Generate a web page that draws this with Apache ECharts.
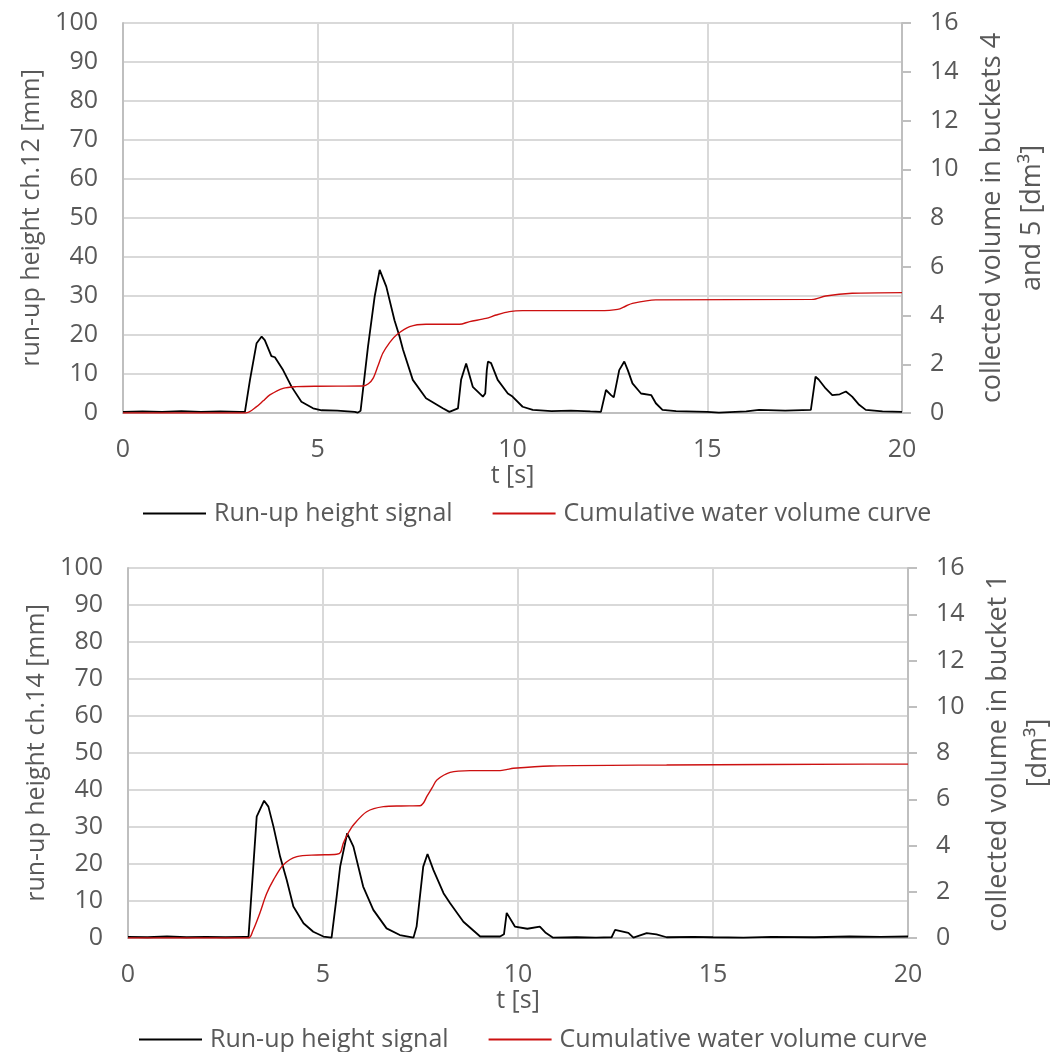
<!DOCTYPE html>
<html>
<head>
<meta charset="utf-8">
<script src="https://cdn.jsdelivr.net/npm/echarts@6/dist/echarts.min.js"></script>
<style>
html,body{margin:0;padding:0;background:#fff;}
#chart{width:1050px;height:1052px;}
</style>
</head>
<body>
<div id="chart"></div>
<script>
// ---- Data ----
var xTicks = [0, 5, 10, 15, 20];
var leftTicks = [0, 10, 20, 30, 40, 50, 60, 70, 80, 90, 100];
var rightTicks = [0, 2, 4, 6, 8, 10, 12, 14, 16];
var seriesNames = ['Run-up height signal', 'Cumulative water volume curve'];

// Top panel: run-up height ch.12 [mm]
var topRunT = [0,0.5,1,1.5,2,2.5,3,3.13,3.26,3.43,3.56,3.64,3.81,3.9,4.11,4.33,4.58,4.88,5.1,5.5,5.95,6.03,6.1,6.29,6.46,6.59,6.76,6.97,7.1,7.19,7.44,7.78,8.21,8.38,8.6,8.68,8.81,8.98,9.24,9.3,9.34,9.37,9.45,9.62,9.88,10.0,10.26,10.52,11,11.5,12,12.27,12.4,12.53,12.6,12.74,12.87,12.96,13.08,13.3,13.56,13.68,13.85,14.2,15,15.3,16,16.33,17,17.66,17.78,17.86,18.04,18.21,18.4,18.56,18.72,18.9,19.07,19.5,20];
var topRunV = [0.3,0.4,0.3,0.5,0.3,0.4,0.3,0.3,8.5,17.9,19.6,18.7,14.6,14.3,11.0,6.7,2.9,1.2,0.7,0.6,0.3,0.1,0.6,17,29.8,36.7,32.4,23.8,19.6,16.2,8.5,3.8,1.2,0.3,1.2,8.5,12.7,6.7,4.2,5.0,11,13.2,12.8,8.5,5.0,4.2,1.6,0.8,0.5,0.6,0.4,0.3,5.9,4.6,4.0,11,13.2,11,7.6,5.0,4.6,2.5,0.8,0.5,0.3,0.1,0.4,0.8,0.6,0.8,9.3,8.6,6.3,4.6,4.8,5.5,4.2,2.1,0.8,0.4,0.3];
// Top panel: collected volume in buckets 4 and 5 [dm3]
var topVolT = [0,3.15,3.43,3.6,3.77,4.11,4.45,5.0,6.16,6.3,6.42,6.55,6.67,6.85,7.02,7.36,7.78,8.64,8.9,9.32,9.58,9.92,10.26,12.23,12.7,12.9,13.08,13.68,17.7,18.04,18.72,20];
var topVolV = [0,0,0.26,0.5,0.74,1.01,1.08,1.1,1.11,1.2,1.42,1.95,2.45,2.9,3.2,3.54,3.64,3.64,3.75,3.88,4.02,4.16,4.2,4.2,4.25,4.38,4.5,4.64,4.66,4.8,4.91,4.94];

// Bottom panel: run-up height ch.14 [mm]
var botRunT = [0,0.5,1,1.5,2,2.5,3,3.09,3.3,3.49,3.6,3.73,3.9,4.07,4.24,4.5,4.75,5.01,5.22,5.26,5.35,5.44,5.62,5.78,6.03,6.29,6.63,6.97,7.32,7.4,7.57,7.68,7.83,8.09,8.26,8.6,9.03,9.54,9.64,9.71,9.92,10.24,10.56,10.7,10.9,11.5,12,12.4,12.49,12.83,12.96,13.3,13.55,13.81,14.5,15,15.78,16.5,17.6,18.5,19.3,20];
var botRunV = [0.3,0.2,0.4,0.2,0.3,0.2,0.3,0.3,32.8,37.1,35.5,30.1,22,15.7,8.5,4.0,1.7,0.4,0.1,0.5,11.2,19.3,28.3,24.7,13.9,7.6,2.6,0.8,0.1,3.1,19.3,22.7,18.4,12.1,9.4,4.4,0.4,0.4,1.0,6.8,3.1,2.5,3.1,1.5,0.1,0.2,0.1,0.2,2.2,1.4,0.1,1.3,1.0,0.2,0.3,0.2,0.1,0.3,0.2,0.4,0.3,0.4];
// Bottom panel: collected volume in bucket 1 [dm3]
var botVolT = [0,3.09,3.2,3.38,3.55,3.73,3.98,4.33,4.84,5.35,5.45,5.52,5.65,5.78,6.12,6.55,7.0,7.49,7.58,7.66,7.8,7.92,8.26,8.77,9.54,9.7,9.88,10.82,13.81,18.94,20];
var botVolV = [0,0,0.3,1.07,1.9,2.51,3.16,3.52,3.59,3.62,3.7,4.1,4.55,4.89,5.46,5.68,5.71,5.72,5.85,6.11,6.5,6.83,7.16,7.24,7.24,7.28,7.34,7.44,7.48,7.52,7.52];

function zip(a, b) { return a.map(function (x, i) { return [x, b[i]]; }); }

var FONT = 'Open Sans';
var FS = 25;
var TXT = '#595959';
var GRIDC = '#d9d9d9';
var AXC = '#bfbfbf';
var RED = '#cc1010';

function xAxisCfg(gi) {
  return {
    type: 'value', gridIndex: gi, min: xTicks[0], max: xTicks[xTicks.length - 1], interval: 5,
    name: 't [s]', nameLocation: 'middle', nameGap: 50,
    nameTextStyle: { fontFamily: FONT, fontSize: FS, color: TXT, verticalAlign: 'top' },
    axisLine: { show: true, lineStyle: { color: AXC, width: 2 } },
    axisTick: { show: false },
    axisLabel: { fontFamily: FONT, fontSize: FS, color: TXT, margin: 24 },
    splitLine: { show: true, lineStyle: { color: GRIDC, width: 2 } }
  };
}
function leftAxisCfg(gi, name) {
  return {
    type: 'value', gridIndex: gi, position: 'left', min: 0, max: 100, interval: 10,
    name: name, nameLocation: 'middle', nameGap: 79, nameRotate: 90,
    nameTextStyle: { fontFamily: FONT, fontSize: FS, color: TXT },
    axisLine: { show: true, onZero: false, lineStyle: { color: AXC, width: 2 } },
    axisTick: { show: false },
    axisLabel: { fontFamily: FONT, fontSize: FS, color: TXT, margin: 25 },
    splitLine: { show: true, lineStyle: { color: GRIDC, width: 2 } }
  };
}
function rightAxisCfg(gi, name) {
  return {
    type: 'value', gridIndex: gi, position: 'right', min: 0, max: 16, interval: 2,
    name: name, nameLocation: 'middle', nameGap: 70, nameRotate: 90,
    nameTextStyle: { fontFamily: FONT, fontSize: 27, color: TXT, lineHeight: 40, align: 'center' },
    axisLine: { show: true, onZero: false, lineStyle: { color: AXC, width: 2 } },
    axisTick: { show: true, inside: false, length: 9, lineStyle: { color: AXC, width: 2 } },
    axisLabel: { fontFamily: FONT, fontSize: FS, color: TXT, margin: 28 },
    splitLine: { show: false }
  };
}
function legendCfg(top, left) {
  return {
    top: top, left: left, itemWidth: 63, itemHeight: 2, itemGap: 40, icon: 'rect',
    textStyle: { fontFamily: FONT, fontSize: FS, color: TXT, padding: [0, 0, 0, 3] },
    data: [
      { name: seriesNames[0], itemStyle: { color: '#000' } },
      { name: seriesNames[1], itemStyle: { color: RED } }
    ]
  };
}

var chart = echarts.init(document.getElementById('chart'), null, { renderer: 'canvas' });
chart.setOption({
  animation: false,
  backgroundColor: '#fff',
  grid: [
    { left: 123, top: 23, width: 779, height: 390, outerBoundsMode: 'none', containLabel: false },
    { left: 128, top: 568, width: 780, height: 370, outerBoundsMode: 'none', containLabel: false }
  ],
  legend: [legendCfg(496, 138), legendCfg(1022, 134)],
  xAxis: [xAxisCfg(0), xAxisCfg(1)],
  yAxis: [
    leftAxisCfg(0, 'run-up height ch.12 [mm]'),
    rightAxisCfg(0, 'collected volume in buckets 4\nand 5 [dm³]'),
    leftAxisCfg(1, 'run-up height ch.14 [mm]'),
    rightAxisCfg(1, 'collected volume in bucket 1\n[dm³]')
  ],
  series: [
    { name: seriesNames[0], type: 'line', xAxisIndex: 0, yAxisIndex: 0, symbol: 'none',
      data: zip(topRunT, topRunV), lineStyle: { color: '#000', width: 1.8 }, itemStyle: { color: '#000' }, z: 3 },
    { name: seriesNames[1], type: 'line', xAxisIndex: 0, yAxisIndex: 1, symbol: 'none', smooth: 0.3,
      data: zip(topVolT, topVolV), lineStyle: { color: RED, width: 1.4 }, itemStyle: { color: RED }, z: 4 },
    { name: seriesNames[0], type: 'line', xAxisIndex: 1, yAxisIndex: 2, symbol: 'none',
      data: zip(botRunT, botRunV), lineStyle: { color: '#000', width: 1.8 }, itemStyle: { color: '#000' }, z: 3 },
    { name: seriesNames[1], type: 'line', xAxisIndex: 1, yAxisIndex: 3, symbol: 'none', smooth: 0.3,
      data: zip(botVolT, botVolV), lineStyle: { color: RED, width: 1.4 }, itemStyle: { color: RED }, z: 4 }
  ]
});
</script>
</body>
</html>
